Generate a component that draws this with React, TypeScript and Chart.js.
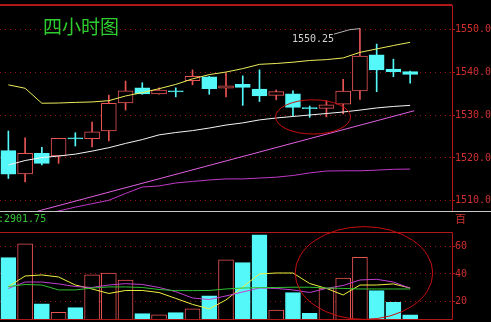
import React, { useEffect, useRef } from 'react';
import { Chart, registerables } from 'chart.js';

Chart.register(...registerables);

// 27 slots: 25 four-hour candles + 2 empty slots on the right
const slots = ['01', '02', '03', '04', '05', '06', '07', '08', '09', '10', '11', '12', '13', '14', '15', '16', '17', '18', '19', '20', '21', '22', '23', '24', '25', '26', '27'];

const opens = [1521.7, 1516.25, 1521.1, 1520.5, 1524.55, 1524.5, 1526.3, 1532.9, 1536.4, 1535.0, 1535.55, 1538.1, 1539.0, 1536.3, 1537.2, 1536.1, 1534.65, 1535.0, 1531.65, 1531.6, 1532.6, 1535.7, 1544.1, 1540.8, 1540.2];
const closes = [1516.2, 1521.1, 1518.75, 1524.6, 1524.45, 1526.1, 1532.8, 1535.7, 1535.0, 1535.9, 1535.45, 1539.1, 1536.2, 1536.9, 1536.5, 1534.5, 1535.5, 1531.85, 1531.55, 1532.4, 1535.65, 1543.85, 1540.6, 1540.2, 1539.55];
const highs = [1526.3, 1524.7, 1522.5, 1524.6, 1525.9, 1528.4, 1534.7, 1538.0, 1537.6, 1536.4, 1536.4, 1540.6, 1539.1, 1539.9, 1539.2, 1540.6, 1535.9, 1535.7, 1532.15, 1533.4, 1538.4, 1550.25, 1546.65, 1543.1, 1540.3];
const lows = [1515.2, 1514.4, 1518.4, 1518.75, 1522.8, 1522.6, 1524.0, 1531.2, 1534.9, 1534.9, 1534.3, 1537.1, 1534.9, 1534.3, 1532.3, 1533.2, 1533.6, 1529.9, 1529.5, 1529.6, 1530.3, 1533.7, 1535.5, 1539.0, 1537.5];

const maUpper = [1537.1, 1536.3, 1532.8, 1532.85, 1533.0, 1533.1, 1533.4, 1534.5, 1535.3, 1536.2, 1537.2, 1538.5, 1539.5, 1540.1, 1540.9, 1541.9, 1542.1, 1542.4, 1542.8, 1543.0, 1543.4, 1544.7, 1545.5, 1546.3, 1547.05];
const maMiddle = [1518.35, 1519.4, 1520.1, 1520.45, 1520.9, 1521.6, 1522.4, 1523.4, 1524.3, 1525.4, 1525.95, 1526.4, 1527.0, 1527.7, 1528.2, 1528.9, 1529.35, 1529.7, 1530.05, 1530.4, 1530.75, 1531.2, 1531.7, 1532.05, 1532.3];
const maLower = [1504.8, 1505.7, 1506.7, 1507.6, 1508.5, 1509.3, 1510.1, 1511.7, 1513.2, 1513.45, 1514.15, 1514.5, 1514.85, 1515.1, 1515.1, 1515.3, 1515.5, 1515.9, 1516.5, 1516.95, 1517.0, 1517.0, 1517.15, 1517.35, 1517.4];

const trendX = [-0.5, 26.5];
const trendY = [1507.55, 1531.05];

const volumes = [52, 62, 18.2, 11.9, 15.3, 39.3, 40.7, 35.6, 10.9, 10, 11.7, 14.4, 23.9, 50.3, 48.3, 68.6, 13.6, 26.3, 11.2, 29.5, 36.9, 52.2, 27.8, 19.3, 10];
const volMaYellow = [30.8, 38.5, 39.3, 37.8, 31.9, 29.0, 25.7, 27.9, 27.9, 26.4, 22.1, 17.7, 14.4, 21.0, 30.5, 40.0, 40.7, 40.7, 33.0, 29.4, 24.6, 31.9, 31.9, 32.7, 29.7];
const volMaMagenta = [29.4, 34.1, 34.1, 32.7, 30.8, 30.1, 31.9, 32.9, 32.3, 30.1, 27.0, 22.4, 21.3, 23.9, 26.8, 29.7, 29.4, 28.3, 26.4, 29.4, 31.6, 35.6, 36.1, 34.1, 29.5];
const volMaGreen = [30.8, 32.3, 31.9, 28.3, 28.3, 29.7, 30.5, 30.5, 30.1, 28.6, 27.8, 27.8, 27.9, 29.0, 29.7, 30.0, 30.1, 30.3, 30.3, 29.7, 29.4, 29.0, 29.0, 29.0, 29.0];

const priceTicks = [1510, 1520, 1530, 1540, 1550];
const volTicks = [20, 40, 60];

const PRICE_MIN = 1482.33;
const PRICE_MAX = 1555.78;
const PRICE_PANEL_BOTTOM = 1507.6;
const VOL_MIN = 7.0;
const VOL_MAX = 237.1;
const VOL_PANEL_TOP = 70.8;

const titleText = '四小时图';
const highLabel = '1550.25';
const highIndex = 21;
const totalText = ':2901.75';
const volUnitText = '百';

// annotation ellipses: [centre index, centre value, half-width (slots), half-height (value units)]
const priceEllipse = [18.2, 1529.6, 2.24, 4.0];
const volEllipse = [21.24, 40.7, 4.11, 34];

const RED = '#e85454';
const CYAN = '#54f8f8';
const AXIS_RED = '#b01818';
const LABEL_RED = '#d03030';
const GRID_RED = '#9a1414';

export default function App() {
  const ref = useRef<HTMLCanvasElement | null>(null);

  useEffect(() => {
    const up = opens.map((o, i) => closes[i] > o);
    const lineBase = {
      type: 'line' as const,
      pointRadius: 0,
      borderWidth: 1,
      tension: 0,
      fill: false,
    };
    const priceClip = { left: 0, top: 0, right: 0, bottom: -108 };

    const overlay = {
      id: 'overlay',
      afterDraw(chart: any) {
        const ctx = chart.ctx;
        const ca = chart.chartArea;
        const xs = chart.scales.x;
        const ys = chart.scales.y;
        const yv = chart.scales.yv;
        const mainBottom = Math.round(ys.getPixelForValue(PRICE_PANEL_BOTTOM));
        const volTop = Math.round(yv.getPixelForValue(VOL_PANEL_TOP));
        ctx.save();
        // panel frames
        ctx.strokeStyle = AXIS_RED;
        ctx.lineWidth = 2;
        ctx.beginPath();
        ctx.moveTo(0, ca.top);
        ctx.lineTo(ca.right, ca.top);
        ctx.stroke();
        ctx.lineWidth = 1;
        ctx.beginPath();
        ctx.moveTo(ca.right + 0.5, ca.top);
        ctx.lineTo(ca.right + 0.5, mainBottom);
        ctx.moveTo(0, volTop + 0.5);
        ctx.lineTo(ca.right + 0.5, volTop + 0.5);
        ctx.lineTo(ca.right + 0.5, ca.bottom + 0.5);
        ctx.moveTo(0, ca.bottom + 0.5);
        ctx.lineTo(ca.right + 0.5, ca.bottom + 0.5);
        ctx.stroke();
        // separator
        ctx.strokeStyle = '#c8c8c8';
        ctx.beginPath();
        ctx.moveTo(0, mainBottom + 0.5);
        ctx.lineTo(chart.width, mainBottom + 0.5);
        ctx.stroke();

        // title
        ctx.fillStyle = '#2ecc2e';
        ctx.font = '19px "Noto Sans CJK SC"';
        ctx.textBaseline = 'middle';
        ctx.textAlign = 'left';
        ctx.fillText(titleText, 43, 27);

        // high annotation
        const hx = xs.getPixelForValue(highIndex);
        const hy = ys.getPixelForValue(highs[highIndex]);
        ctx.strokeStyle = '#b4b4b4';
        ctx.beginPath();
        ctx.moveTo(hx - 26, hy + 5.5);
        ctx.lineTo(hx - 10, hy + 1);
        ctx.lineTo(hx, hy);
        ctx.stroke();
        ctx.fillStyle = '#d0d0d0';
        ctx.font = '10px "DejaVu Sans Mono"';
        ctx.fillText(highLabel, hx - 68, hy + 10.5);

        // total volume text
        ctx.fillStyle = '#36c836';
        ctx.fillText(totalText, -2, mainBottom + 8);

        // volume axis labels
        ctx.fillStyle = LABEL_RED;
        volTicks.forEach((v) => {
          ctx.fillText(String(v), ca.right + 3, yv.getPixelForValue(v));
        });

        // unit
        ctx.font = '11px "Noto Sans CJK SC"';
        ctx.fillText(volUnitText, ca.right + 3, mainBottom + 7.5);

        // ellipses
        const slot = xs.getPixelForValue(1) - xs.getPixelForValue(0);
        ctx.strokeStyle = '#c80e0e';
        ctx.lineWidth = 1;
        const pe = priceEllipse;
        ctx.beginPath();
        ctx.ellipse(
          xs.getPixelForValue(0) + pe[0] * slot,
          ys.getPixelForValue(pe[1]),
          pe[2] * slot,
          Math.abs(ys.getPixelForValue(pe[1] + pe[3]) - ys.getPixelForValue(pe[1])),
          0, 0, Math.PI * 2,
        );
        ctx.stroke();
        const ve = volEllipse;
        ctx.beginPath();
        ctx.ellipse(
          xs.getPixelForValue(0) + ve[0] * slot,
          yv.getPixelForValue(ve[1]),
          ve[2] * slot,
          Math.abs(yv.getPixelForValue(ve[1] + ve[3]) - yv.getPixelForValue(ve[1])),
          0, 0, Math.PI * 2,
        );
        ctx.stroke();
        ctx.restore();
      },
    };

    const chart = new Chart(ref.current as HTMLCanvasElement, {
      type: 'bar',
      data: {
        labels: slots,
        datasets: [
          {
            type: 'bar',
            yAxisID: 'yv',
            data: volumes,
            backgroundColor: up.map((u) => (u ? '#000000' : CYAN)),
            borderColor: up.map((u) => (u ? RED : CYAN)),
            borderWidth: 1,
            borderSkipped: false,
            barThickness: 15,
            grouped: false,
            order: 6,
          },
          {
            type: 'bar',
            yAxisID: 'y',
            data: lows.map((l, i) => [l, highs[i]]),
            backgroundColor: up.map((u) => (u ? RED : CYAN)),
            borderWidth: 0,
            barThickness: 1,
            grouped: false,
            order: 5,
          },
          {
            type: 'bar',
            yAxisID: 'y',
            data: opens.map((o, i) => [Math.min(o, closes[i]), Math.max(o, closes[i])]),
            backgroundColor: up.map((u) => (u ? '#000000' : CYAN)),
            borderColor: up.map((u) => (u ? RED : CYAN)),
            borderWidth: 1,
            borderSkipped: false,
            minBarLength: 1,
            barThickness: 15,
            grouped: false,
            order: 4,
          },
          {
            ...lineBase,
            xAxisID: 'xt',
            yAxisID: 'y',
            data: trendX.map((x, i) => ({ x, y: trendY[i] })),
            borderColor: '#e060e0',
            clip: priceClip,
            order: 3,
          },
          { ...lineBase, yAxisID: 'y', data: maLower, borderColor: '#c038c8', clip: priceClip, order: 2 },
          { ...lineBase, yAxisID: 'y', data: maMiddle, borderColor: '#f4f4f4', clip: priceClip, order: 2 },
          { ...lineBase, yAxisID: 'y', data: maUpper, borderColor: '#ecec5c', clip: priceClip, order: 2 },
          { ...lineBase, yAxisID: 'yv', data: volMaGreen, borderColor: '#30c030', order: 1 },
          { ...lineBase, yAxisID: 'yv', data: volMaMagenta, borderColor: '#c040d0', order: 1 },
          { ...lineBase, yAxisID: 'yv', data: volMaYellow, borderColor: '#f0f040', order: 1 },
        ] as any,
      },
      options: {
        animation: false,
        responsive: false,
        devicePixelRatio: 1,
        events: [],
        layout: { padding: { top: 5, bottom: 3, left: 0, right: 0 } },
        plugins: { legend: { display: false }, tooltip: { enabled: false } },
        scales: {
          x: { type: 'category', offset: true, display: false },
          xt: { type: 'linear', min: -0.5, max: 26.5, display: false },
          y: {
            type: 'linear',
            position: 'right',
            weight: 2,
            min: PRICE_MIN,
            max: PRICE_MAX,
            afterFit(s: any) {
              s.width = 39;
              s.paddingTop = 0;
              s.paddingBottom = 0;
            },
            afterBuildTicks(s: any) {
              s.ticks = priceTicks.map((v) => ({ value: v }));
            },
            ticks: {
              callback: (v: any) => Number(v).toFixed(1),
              color: LABEL_RED,
              font: { family: 'DejaVu Sans Mono', size: 10 },
              padding: 0,
              autoSkip: false,
            },
            grid: { color: GRID_RED, lineWidth: 1, drawTicks: true, tickLength: 3, tickColor: AXIS_RED, tickWidth: 1 },
            border: { display: false, dash: [1, 4] },
          },
          yv: {
            type: 'linear',
            position: 'right',
            weight: 1,
            min: VOL_MIN,
            max: VOL_MAX,
            afterFit(s: any) {
              s.width = 0;
              s.paddingTop = 0;
              s.paddingBottom = 0;
            },
            afterBuildTicks(s: any) {
              s.ticks = volTicks.map((v) => ({ value: v }));
            },
            ticks: { display: false },
            grid: { color: GRID_RED, lineWidth: 1, drawTicks: true, tickLength: 3, tickColor: AXIS_RED, tickWidth: 1 },
            border: { display: false, dash: [1, 4] },
          },
        },
      } as any,
      plugins: [overlay],
    });
    return () => chart.destroy();
  }, []);

  return (
    <div style={{ position: 'fixed', left: 0, top: 0, width: 491, height: 322, background: '#000000', overflow: 'hidden' }}>
      <canvas ref={ref} width={491} height={322} style={{ display: 'block', width: 491, height: 322 }} />
    </div>
  );
}
